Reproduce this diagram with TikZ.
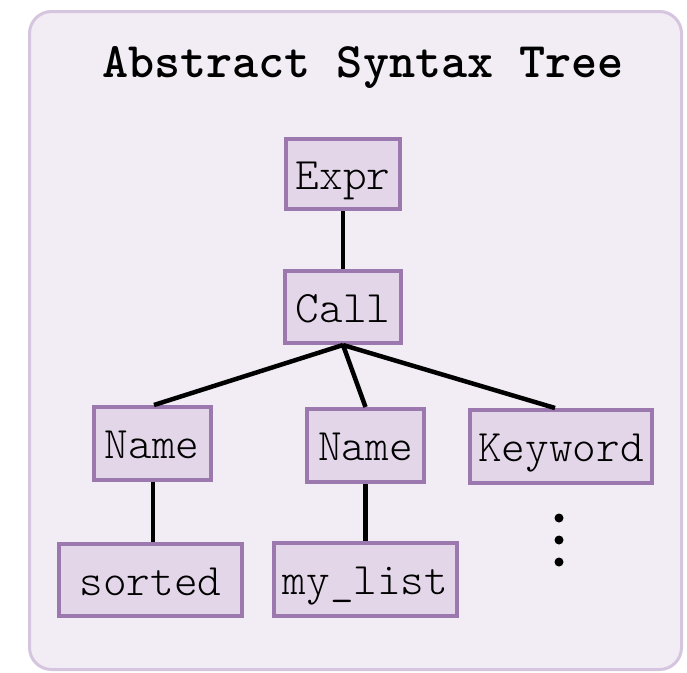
\documentclass[tikz,border=0pt]{standalone}
\usepackage{fontspec}
\newfontfamily\nodefont{lmmonolt10-regular}[Extension=.otf]
\newfontfamily\titlefont{lmmonolt10-bold}[Extension=.otf]
\definecolor{outerfill}{HTML}{F2ECF4}
\definecolor{outerdraw}{HTML}{D6C5DF}
\definecolor{nodefill}{HTML}{E3D6E9}
\definecolor{nodedraw}{HTML}{9B78AE}
\tikzset{
  astnode/.style={draw=nodedraw, fill=nodefill, line width=4pt, inner sep=0pt,
    font=\fontsize{45}{46}\nodefont, text height=30pt, text depth=0pt, align=center},
  edge/.style={line width=4.5pt, black},
  dotnode/.style={circle, fill=black, inner sep=0pt, minimum size=9pt}
}
\begin{document}
\begin{tikzpicture}[x=1pt,y=-1pt]
\useasboundingbox (0,0) rectangle (687,672);
\draw[outerdraw, fill=outerfill, line width=3pt, rounded corners=22pt] (29.5,11.5) rectangle (681.5,669.5);
\node[font=\fontsize{49.7}{50}\titlefont, anchor=base] (title) at (363,77) {Abstract Syntax Tree};
\node[astnode, minimum width=114pt, minimum height=70pt] (expr) at (343,174) {Expr};
\node[astnode, minimum width=116pt, minimum height=72pt] (call) at (343,307) {Call};
\node[astnode, minimum width=117pt, minimum height=73pt] (name1) at (152,443.5) {Name};
\node[astnode, minimum width=117pt, minimum height=73pt] (name2) at (365.5,445.5) {Name};
\node[astnode, minimum width=182pt, minimum height=73pt] (kw) at (561,446.5) {Keyword};
\node[astnode, minimum width=183pt, minimum height=72pt] (sorted) at (150.5,580) {sorted};
\node[astnode, minimum width=183pt, minimum height=73pt] (mylist) at (365.5,579.5) {my\_list};
\node[dotnode] (d1) at (559,518) {};
\node[dotnode] (d2) at (559,540) {};
\node[dotnode] (d3) at (559,562) {};
\draw[edge] (expr.south) -- (call.north);
\draw[edge] (call.south) -- ([xshift=2pt]name1.north);
\draw[edge] (call.south) -- (name2.north);
\draw[edge] (call.south) -- ([xshift=-6pt]kw.north);
\draw[edge] ([xshift=1pt]name1.south) -- ([xshift=2.5pt]sorted.north);
\draw[edge] (name2.south) -- (mylist.north);
\end{tikzpicture}
\end{document}
